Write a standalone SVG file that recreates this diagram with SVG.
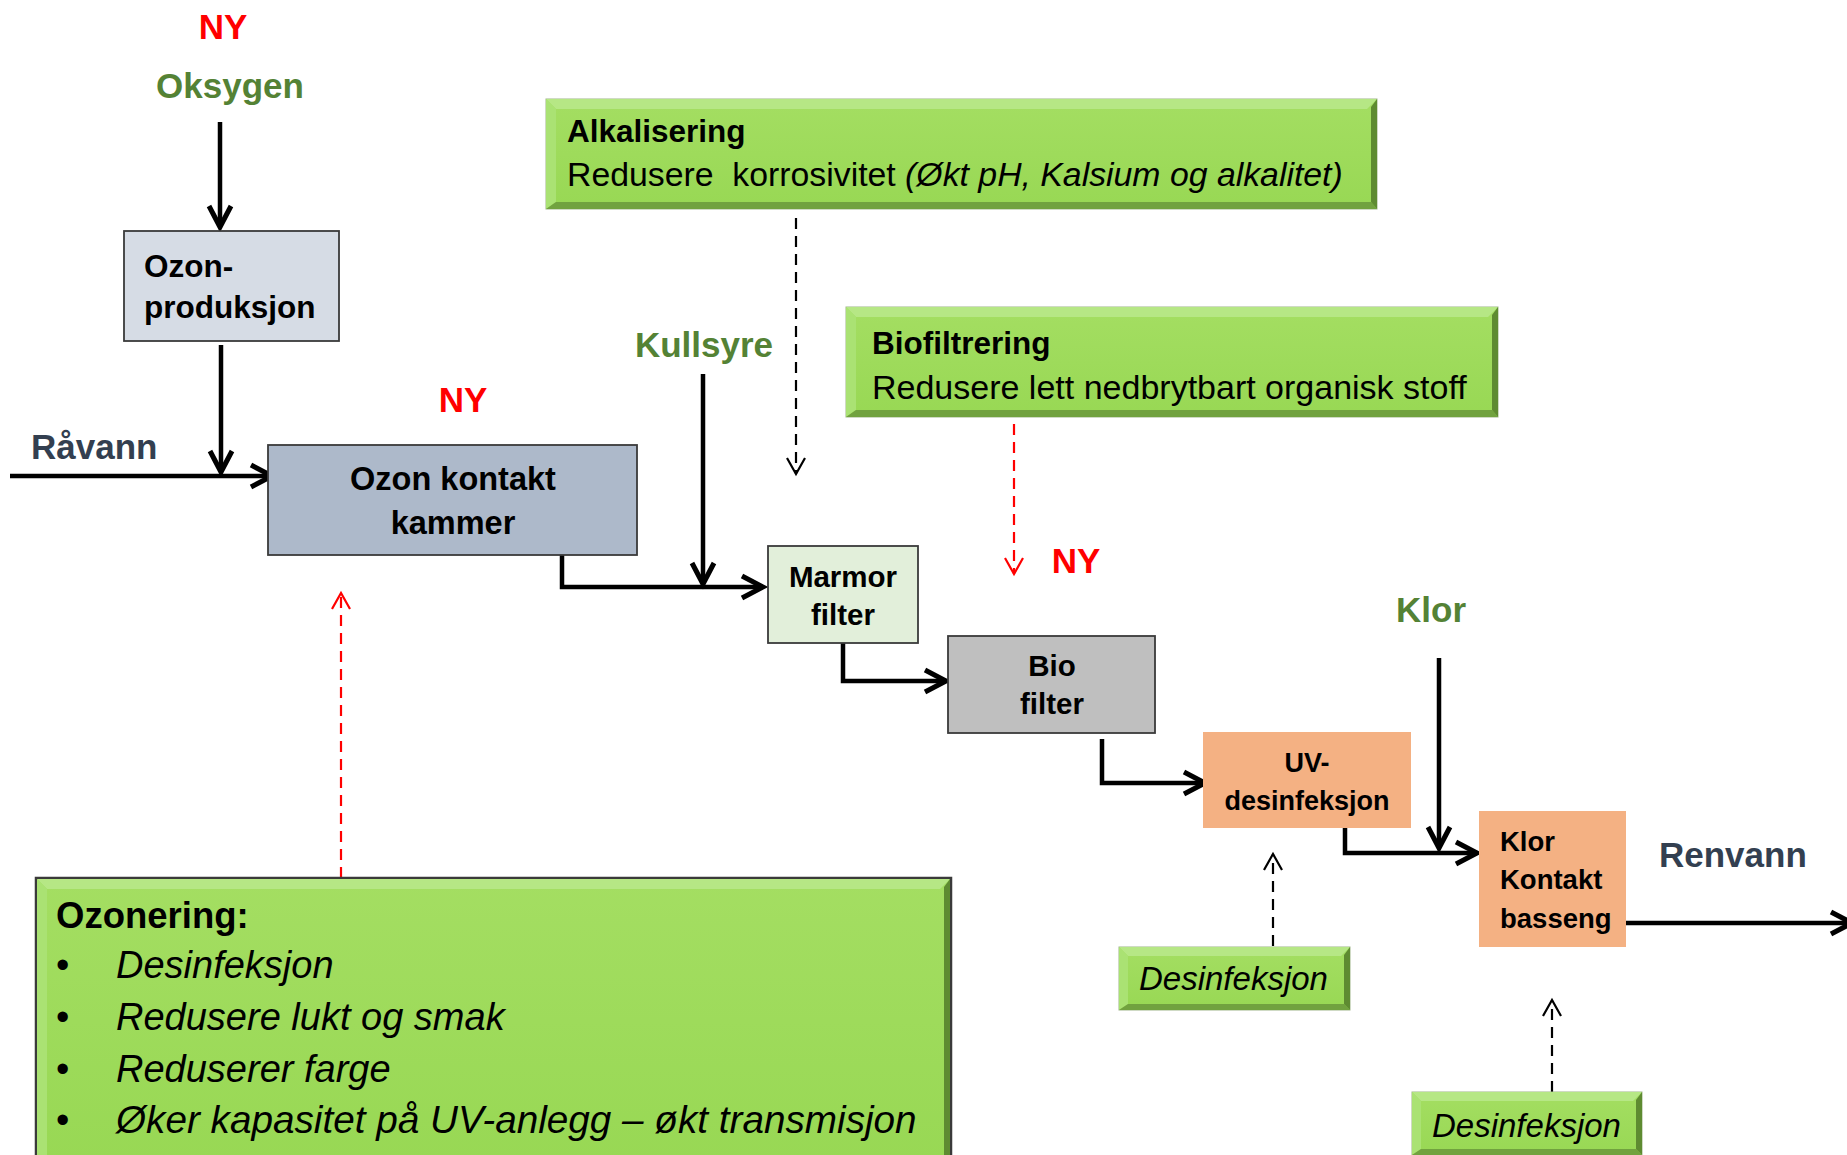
<svg xmlns="http://www.w3.org/2000/svg" width="1847" height="1155" viewBox="0 0 1847 1155">
<defs>
  <style>
    text { font-family: "Liberation Sans", Arial, sans-serif; }
    .b { font-weight: bold; }
    .i { font-style: italic; }
    .lbl { font-weight: bold; font-size: 35px; }
    .ny { fill: #ff0000; }
    .grn { fill: #548235; }
    .slate { fill: #333f50; }
    .node { stroke: #3a3a3a; stroke-width: 1.8; }
    .flow { fill: none; stroke: #000; stroke-width: 4.5; }
    .dash { fill: none; stroke: #000; stroke-width: 2.2; stroke-dasharray: 11 7; }
    .dashr { fill: none; stroke: #ff0000; stroke-width: 2.2; stroke-dasharray: 11 7; }
    .gbase { fill: url(#gg); stroke: #9fb58a; stroke-width: 1; }
    .bt { fill: #b6e785; }
    .bl { fill: #aae273; }
    .bb { fill: #71a23f; }
    .br { fill: #5e8b31; }
  </style>
  <linearGradient id="gg" x1="0" y1="0" x2="0" y2="1">
    <stop offset="0" stop-color="#a4de62"/>
    <stop offset="1" stop-color="#98d854"/>
  </linearGradient>
  <marker id="ah" markerUnits="userSpaceOnUse" viewBox="-26 -14 32 28" refX="0" refY="0" markerWidth="32" markerHeight="28" orient="auto">
    <path d="M-21,-11 L0,0 L-21,11" fill="none" stroke="#000" stroke-width="5"/>
  </marker>
  <marker id="ahd" markerUnits="userSpaceOnUse" viewBox="-20 -12 24 24" refX="0" refY="0" markerWidth="24" markerHeight="24" orient="auto">
    <path d="M-16,-9 L0,0 L-16,9" fill="none" stroke="#000" stroke-width="2.2"/>
  </marker>
  <marker id="ahr" markerUnits="userSpaceOnUse" viewBox="-20 -12 24 24" refX="0" refY="0" markerWidth="24" markerHeight="24" orient="auto">
    <path d="M-16,-9 L0,0 L-16,9" fill="none" stroke="#ff0000" stroke-width="2.2"/>
  </marker>
</defs>
<rect x="0" y="0" width="1847" height="1155" fill="#ffffff"/>

<!-- free labels -->
<g id="labels">
  <text class="lbl ny" x="223" y="39" text-anchor="middle">NY</text>
  <text class="lbl grn" x="230" y="98" text-anchor="middle">Oksygen</text>
  <text class="lbl slate" x="31" y="459">Råvann</text>
  <text class="lbl ny" x="463" y="412" text-anchor="middle">NY</text>
  <text class="lbl grn" x="704" y="357" text-anchor="middle">Kullsyre</text>
  <text class="lbl ny" x="1076" y="573" text-anchor="middle">NY</text>
  <text class="lbl grn" x="1431" y="622" text-anchor="middle">Klor</text>
  <text class="lbl slate" x="1659" y="867">Renvann</text>
</g>

<!-- connectors -->
<g id="connectors">
  <line class="flow" x1="220" y1="122" x2="220" y2="227" marker-end="url(#ah)"/>
  <line class="flow" x1="221" y1="345" x2="221" y2="472" marker-end="url(#ah)"/>
  <line class="flow" x1="10" y1="476" x2="272" y2="476" marker-end="url(#ah)"/>
  <path class="flow" d="M562,551 V587 H763" marker-end="url(#ah)"/>
  <line class="flow" x1="703" y1="374" x2="703" y2="584" marker-end="url(#ah)"/>
  <path class="flow" d="M843,643 V681 H946" marker-end="url(#ah)"/>
  <path class="flow" d="M1102,739 V783 H1205" marker-end="url(#ah)"/>
  <path class="flow" d="M1345,824 V853 H1477" marker-end="url(#ah)"/>
  <line class="flow" x1="1439" y1="658" x2="1439" y2="848" marker-end="url(#ah)"/>
  <line class="flow" x1="1626" y1="923" x2="1852" y2="923" marker-end="url(#ah)"/>
  <line class="dash" x1="796" y1="218" x2="796" y2="474" marker-end="url(#ahd)"/>
  <line class="dashr" x1="1014" y1="424" x2="1014" y2="574" marker-end="url(#ahr)"/>
  <line class="dashr" x1="341" y1="878" x2="341" y2="593" marker-end="url(#ahr)"/>
  <line class="dash" x1="1273" y1="946" x2="1273" y2="854" marker-end="url(#ahd)"/>
  <line class="dash" x1="1552" y1="1092" x2="1552" y2="1000" marker-end="url(#ahd)"/>
</g>

<!-- process nodes -->
<g id="ozonproduksjon">
  <rect class="node" x="124" y="231" width="215" height="110" fill="#d6dce5"/>
  <text class="b" font-size="31.5" x="144" y="277">Ozon-</text>
  <text class="b" font-size="31.5" x="144" y="318">produksjon</text>
</g>
<g id="ozonkontakt">
  <rect class="node" x="268" y="445" width="369" height="110" fill="#adb9ca"/>
  <text class="b" font-size="32.5" x="453" y="490" text-anchor="middle">Ozon kontakt</text>
  <text class="b" font-size="32.5" x="453" y="534" text-anchor="middle">kammer</text>
</g>
<g id="marmorfilter">
  <rect class="node" x="768" y="546" width="150" height="97" fill="#e2efda"/>
  <text class="b" font-size="29.5" x="843" y="587" text-anchor="middle">Marmor</text>
  <text class="b" font-size="29.5" x="843" y="625" text-anchor="middle">filter</text>
</g>
<g id="biofilter">
  <rect class="node" x="948" y="636" width="207" height="97" fill="#bfbfbf"/>
  <text class="b" font-size="29.5" x="1052" y="676" text-anchor="middle">Bio</text>
  <text class="b" font-size="29.5" x="1052" y="714" text-anchor="middle">filter</text>
</g>
<g id="uvdesinfeksjon">
  <rect x="1203" y="732" width="208" height="96" fill="#f4b183"/>
  <text class="b" font-size="27" x="1307" y="772" text-anchor="middle">UV-</text>
  <text class="b" font-size="27" x="1307" y="810" text-anchor="middle">desinfeksjon</text>
</g>
<g id="klorkontakt">
  <rect x="1479" y="811" width="147" height="136" fill="#f4b183"/>
  <text class="b" font-size="27.5" x="1500" y="851">Klor</text>
  <text class="b" font-size="27.5" x="1500" y="889">Kontakt</text>
  <text class="b" font-size="27.5" x="1500" y="928">basseng</text>
</g>

<!-- green info boxes -->
<g id="alkalisering">
  <rect class="gbase" x="546" y="99" width="831" height="110"/>
  <polygon class="bt" points="546,99 1377,99 1367,109 556,109"/>
  <polygon class="bl" points="546,99 556,109 556,202 546,209"/>
  <polygon class="bb" points="546,209 556,202 1371,202 1377,209"/>
  <polygon class="br" points="1377,99 1377,209 1371,202 1371,107"/>
  <text class="b" font-size="31.5" x="567" y="142">Alkalisering</text>
  <text font-size="33.8" x="567" y="186">Redusere &#160;korrosivitet <tspan class="i">(Økt pH, Kalsium og alkalitet)</tspan></text>
</g>
<g id="biofiltrering">
  <rect class="gbase" x="846" y="307" width="652" height="110"/>
  <polygon class="bt" points="846,307 1498,307 1488,317 856,317"/>
  <polygon class="bl" points="846,307 856,317 856,410 846,417"/>
  <polygon class="bb" points="846,417 856,410 1492,410 1498,417"/>
  <polygon class="br" points="1498,307 1498,417 1492,410 1492,315"/>
  <text class="b" font-size="31.5" x="872" y="354">Biofiltrering</text>
  <text font-size="34" x="872" y="399">Redusere lett nedbrytbart organisk stoff</text>
</g>
<g id="desinfeksjon-uv">
  <rect class="gbase" x="1119" y="947" width="231" height="63"/>
  <polygon class="bt" points="1119,947 1350,947 1341,956 1128,956"/>
  <polygon class="bl" points="1119,947 1128,956 1128,1004 1119,1010"/>
  <polygon class="bb" points="1119,1010 1128,1004 1344,1004 1350,1010"/>
  <polygon class="br" points="1350,947 1350,1010 1344,1004 1344,955"/>
  <text class="i" font-size="33" x="1139" y="990">Desinfeksjon</text>
</g>
<g id="desinfeksjon-klor">
  <rect class="gbase" x="1412" y="1092" width="230" height="63"/>
  <polygon class="bt" points="1412,1092 1642,1092 1633,1101 1421,1101"/>
  <polygon class="bl" points="1412,1092 1421,1101 1421,1149 1412,1155"/>
  <polygon class="bb" points="1412,1155 1421,1149 1636,1149 1642,1155"/>
  <polygon class="br" points="1642,1092 1642,1155 1636,1149 1636,1100"/>
  <text class="i" font-size="33" x="1432" y="1137">Desinfeksjon</text>
</g>
<g id="ozonering">
  <rect x="36" y="878" width="915" height="285" fill="url(#gg)" stroke="#3a3a3a" stroke-width="2.5"/>
  <polygon class="bt" points="37,879 950,879 940,889 47,889"/>
  <polygon class="bl" points="37,879 47,889 47,1160 37,1160"/>
  <polygon class="br" points="950,879 950,1160 944,1160 944,887"/>
  <text class="b" font-size="36.5" x="56" y="928">Ozonering:</text>
  <text font-size="38" x="56" y="978">•</text>
  <text font-size="38" x="56" y="1030">•</text>
  <text font-size="38" x="56" y="1082">•</text>
  <text font-size="38" x="56" y="1133">•</text>
  <text class="i" font-size="38" x="116" y="978">Desinfeksjon</text>
  <text class="i" font-size="38" x="116" y="1030">Redusere lukt og smak</text>
  <text class="i" font-size="38" x="116" y="1082">Reduserer farge</text>
  <text class="i" font-size="38.7" x="116" y="1133">Øker kapasitet på UV-anlegg – økt transmisjon</text>
</g>
</svg>
